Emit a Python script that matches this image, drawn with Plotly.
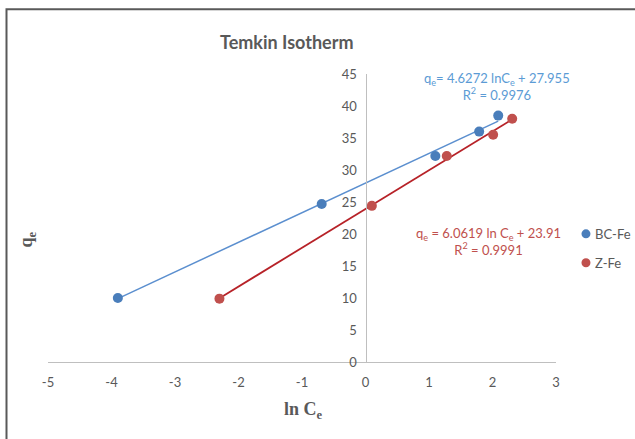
import plotly.graph_objects as go

# Data
bc_x = [-3.90, -0.69, 1.10, 1.79, 2.09]
bc_y = [10.0, 24.7, 32.2, 36.0, 38.5]
z_x = [-2.30, 0.10, 1.28, 2.01, 2.31]
z_y = [9.9, 24.4, 32.2, 35.5, 38.0]

# Trendline coefficients shown on the chart
bc_slope, bc_int, bc_r2 = 4.6272, 27.955, 0.9976
z_slope, z_int, z_r2 = 6.0619, 23.91, 0.9991

series_names = ["BC-Fe", "Z-Fe"]
x_ticks = [-5, -4, -3, -2, -1, 0, 1, 2, 3]
y_ticks = [0, 5, 10, 15, 20, 25, 30, 35, 40, 45]

BLUE_PT = "#4a7ebb"
RED_PT = "#c0504d"
BLUE_LN = "#5b8fcf"
RED_LN = "#b72228"
FONT = "Lato, Open Sans, sans-serif"
GRAY = "#595959"

fig = go.Figure()

bc_lx = [min(bc_x), max(bc_x)]
z_lx = [min(z_x), max(z_x)]
fig.add_trace(go.Scatter(x=bc_lx, y=[bc_slope * v + bc_int for v in bc_lx], mode="lines",
                         line=dict(color=BLUE_LN, width=1.5), showlegend=False, hoverinfo="skip"))
fig.add_trace(go.Scatter(x=z_lx, y=[z_slope * v + z_int for v in z_lx], mode="lines",
                         line=dict(color=RED_LN, width=1.8), showlegend=False, hoverinfo="skip"))
fig.add_trace(go.Scatter(x=bc_x, y=bc_y, mode="markers", name=series_names[0],
                         marker=dict(color=BLUE_PT, size=10), showlegend=False))
fig.add_trace(go.Scatter(x=z_x, y=z_y, mode="markers", name=series_names[1],
                         marker=dict(color=RED_PT, size=10), showlegend=False))

fig.update_layout(
    width=635, height=439,
    margin=dict(l=48, r=79, t=74, b=77, autoexpand=False),
    paper_bgcolor="white", plot_bgcolor="white",
    font=dict(family=FONT, size=12, color=GRAY),
    xaxis=dict(range=[-5, 3], tickvals=x_ticks, ticktext=[str(v) for v in x_ticks],
               showgrid=False, zeroline=False, showline=True, linecolor="#bfbfbf", linewidth=1,
               ticks="", ticklabelstandoff=8, tickfont=dict(size=13, color=GRAY),
               domain=[0, 1], automargin=False),
    yaxis=dict(range=[0, 45], tickvals=y_ticks, anchor="free", position=0.625,
               showgrid=False, zeroline=False, showline=True, linecolor="#bfbfbf", linewidth=1,
               ticks="", ticklabelstandoff=6, tickfont=dict(size=13, color=GRAY), automargin=False),
    showlegend=False,
)

annotations = [
    dict(text="<b>Temkin Isotherm</b>", xref="paper", yref="paper", x=0.47, y=1.11,
         xanchor="center", yanchor="middle", showarrow=False,
         font=dict(family=FONT, size=18, color=GRAY)),
    dict(text=f"q<sub>e</sub>= {bc_slope} lnC<sub>e</sub> + {bc_int}<br>R<sup>2</sup> = {bc_r2}",
         xref="x", yref="y", x=2.07, y=43.0, xanchor="center", yanchor="middle", showarrow=False,
         font=dict(family=FONT, size=13, color="#5b9bd5")),
    dict(text=f"q<sub>e</sub> = {z_slope} ln C<sub>e</sub> + {z_int}<br>R<sup>2</sup> = {z_r2}",
         xref="x", yref="y", x=1.93, y=18.9, xanchor="center", yanchor="middle", showarrow=False,
         font=dict(family=FONT, size=13, color="#c0504d")),
    dict(text="<b>ln C<sub>e</sub></b>", xref="paper", yref="paper", x=0.502, y=-0.168,
         xanchor="center", yanchor="middle", showarrow=False,
         font=dict(family="Liberation Serif, serif", size=18, color=GRAY)),
    dict(text="<b>q<sub>e</sub></b>", xref="paper", yref="paper", x=-0.04, y=0.424,
         xanchor="center", yanchor="middle", showarrow=False, textangle=-90,
         font=dict(family="Liberation Serif, serif", size=18, color=GRAY)),
]

# Manual legend (markers + labels) placed like the original
legend_colors = [BLUE_PT, RED_PT]
legend_y = [0.445, 0.3445]
for name, col, ly in zip(series_names, legend_colors, legend_y):
    fig.add_shape(type="circle", xref="paper", yref="paper", xsizemode="pixel", ysizemode="pixel",
                  xanchor=1.059, yanchor=ly, x0=-4.5, x1=4.5, y0=-4.5, y1=4.5,
                  fillcolor=col, line=dict(width=0))
    annotations.append(dict(text=name, xref="paper", yref="paper", x=1.072, y=ly,
                            xanchor="left", yanchor="middle", showarrow=False,
                            font=dict(family=FONT, size=13, color=GRAY)))

fig.update_layout(annotations=annotations)

fig.add_shape(type="rect", xref="paper", yref="paper", x0=-0.0817, y0=-0.4, x1=1.3, y1=1.225,
              line=dict(color="#595959", width=2), fillcolor="rgba(0,0,0,0)", layer="above")

fig.write_html("out.html")
